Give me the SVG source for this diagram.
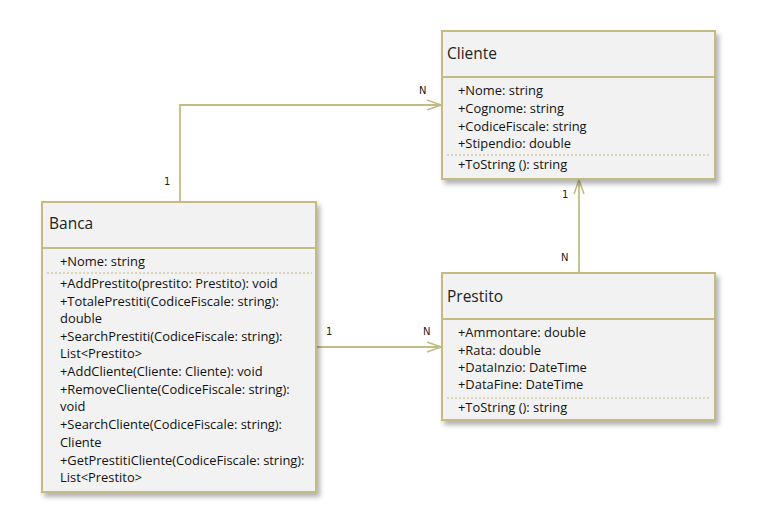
<svg xmlns="http://www.w3.org/2000/svg" width="781" height="532" viewBox="0 0 781 532">
<defs>
<filter id="sh" x="-10%" y="-10%" width="130%" height="130%">
<feDropShadow dx="3" dy="4" stdDeviation="2.5" flood-color="#000" flood-opacity="0.3"/>
</filter>
<marker id="arr" viewBox="0 0 16 12" refX="15" refY="6" markerWidth="16" markerHeight="12" markerUnits="userSpaceOnUse" orient="auto">
<path d="M1,1 L15,6 L1,11" fill="none" stroke="#C4BB84" stroke-width="1.6"/>
</marker>
<style>
.box{fill:#F2F2F2;stroke:#C4BB84;stroke-width:2}
.div{stroke:#C4BB84;stroke-width:2}
.dash{stroke:#C4BB84;stroke-width:1;stroke-dasharray:2,2}
.title{font-family:"Open Sans","Liberation Sans",sans-serif;font-size:15.5px;fill:#222}
.t{font-family:"Open Sans","Liberation Sans",sans-serif;font-size:12.9px;fill:#111}
.lbl{font-family:"DejaVu Sans",sans-serif;font-size:10px;fill:#222}
.con{fill:none;stroke:#C4BB84;stroke-width:1.8}
</style>
</defs>
<rect width="781" height="532" fill="#fff"/>
<g id="connectors">
<polyline class="con" points="180,202 180,105 441,105" marker-end="url(#arr)"/>
<line class="con" x1="316" y1="347" x2="441" y2="347" marker-end="url(#arr)"/>
<line class="con" x1="579" y1="273" x2="579" y2="180" marker-end="url(#arr)"/>
<text class="lbl" x="164" y="185">1</text>
<text class="lbl" x="419" y="94">N</text>
<text class="lbl" x="326" y="335">1</text>
<text class="lbl" x="423" y="335">N</text>
<text class="lbl" x="562" y="198">1</text>
<text class="lbl" x="561" y="261">N</text>
</g>
<g id="Cliente">
<rect class="box" x="442" y="31" width="273" height="148" filter="url(#sh)"/>
<line class="div" x1="442" y1="77" x2="715" y2="77"/>
<text class="title" x="447" y="59">Cliente</text>
<text class="t" x="458" y="95">+Nome: string</text>
<text class="t" x="458" y="113">+Cognome: string</text>
<text class="t" x="458" y="131">+CodiceFiscale: string</text>
<text class="t" x="458" y="148">+Stipendio: double</text>
<line class="dash" x1="447" y1="155" x2="711" y2="155"/>
<text class="t" x="458" y="169">+ToString (): string</text>
</g>
<g id="Banca">
<rect class="box" x="42" y="202" width="274" height="290" filter="url(#sh)"/>
<line class="div" x1="42" y1="248" x2="316" y2="248"/>
<text class="title" x="49" y="229">Banca</text>
<text class="t" x="60" y="266">+Nome: string</text>
<line class="dash" x1="47" y1="273" x2="312" y2="273"/>
<text class="t" x="60" y="288">+AddPrestito(prestito: Prestito): void</text>
<text class="t" x="60" y="306">+TotalePrestiti(CodiceFiscale: string):</text>
<text class="t" x="60" y="323">double</text>
<text class="t" x="60" y="341">+SearchPrestiti(CodiceFiscale: string):</text>
<text class="t" x="60" y="358">List&lt;Prestito&gt;</text>
<text class="t" x="60" y="376">+AddCliente(Cliente: Cliente): void</text>
<text class="t" x="60" y="394">+RemoveCliente(CodiceFiscale: string):</text>
<text class="t" x="60" y="411">void</text>
<text class="t" x="60" y="429">+SearchCliente(CodiceFiscale: string):</text>
<text class="t" x="60" y="447">Cliente</text>
<text class="t" x="60" y="465">+GetPrestitiCliente(CodiceFiscale: string):</text>
<text class="t" x="60" y="482">List&lt;Prestito&gt;</text>
</g>
<g id="Prestito">
<rect class="box" x="442" y="273" width="273" height="147" filter="url(#sh)"/>
<line class="div" x1="442" y1="319" x2="715" y2="319"/>
<text class="title" x="447" y="302">Prestito</text>
<text class="t" x="458" y="337">+Ammontare: double</text>
<text class="t" x="458" y="355">+Rata: double</text>
<text class="t" x="458" y="372">+DataInzio: DateTime</text>
<text class="t" x="458" y="389">+DataFine: DateTime</text>
<line class="dash" x1="447" y1="398" x2="711" y2="398"/>
<text class="t" x="458" y="412">+ToString (): string</text>
</g>
</svg>
